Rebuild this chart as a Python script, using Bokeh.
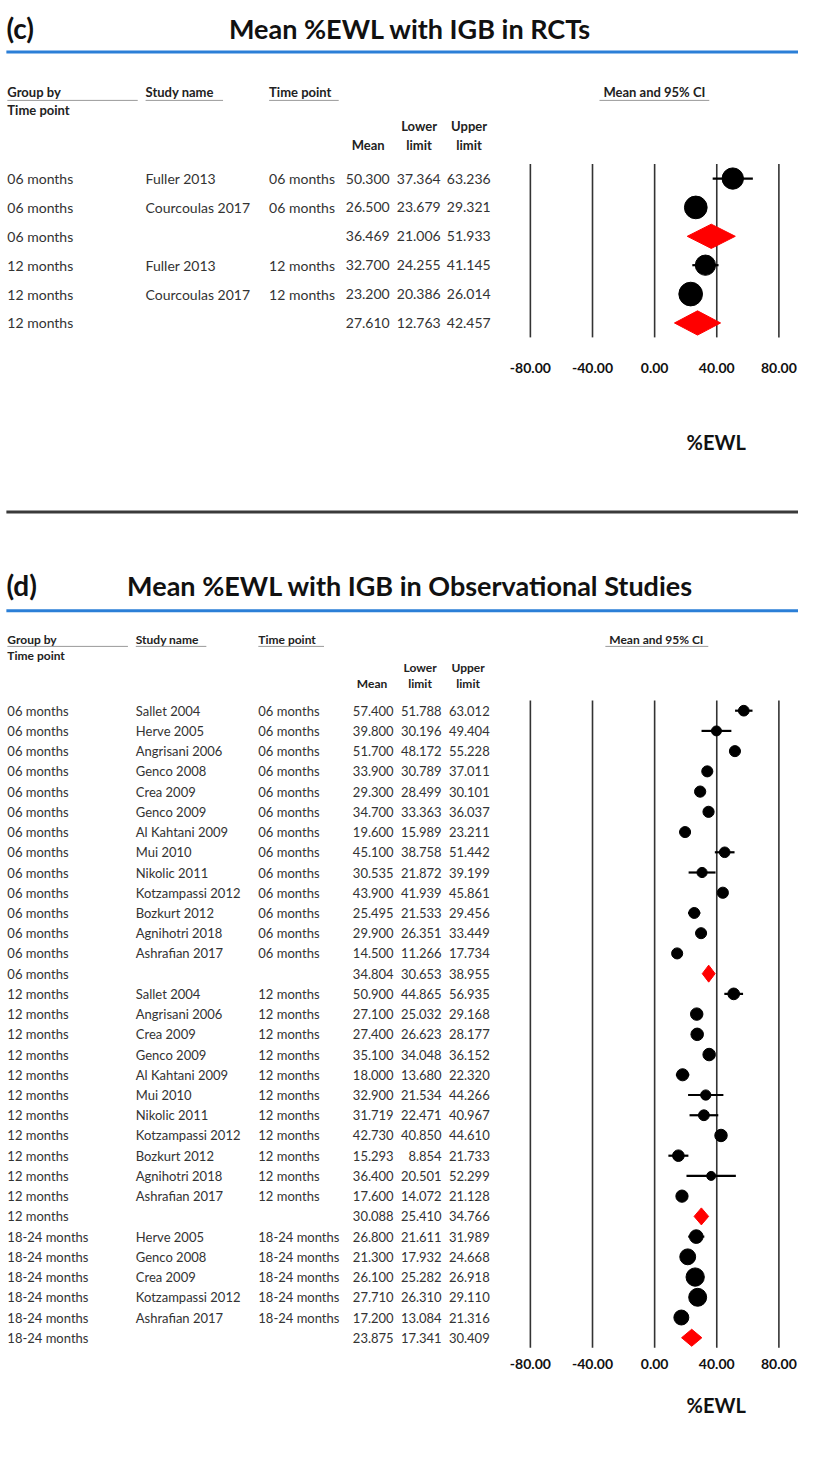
import numpy as np
from bokeh.plotting import figure
from bokeh.layouts import column
from bokeh.models import Range1d, ColumnDataSource
from bokeh.core.properties import value
from bokeh.embed import file_html
from bokeh.resources import INLINE

FONT = "Lato"

# ---------------- data: panel (c) ----------------
title_c = "Mean %EWL with IGB in RCTs"
group_c = ["06 months", "06 months", "06 months", "12 months", "12 months", "12 months"]
study_c = ["Fuller 2013", "Courcoulas 2017", "", "Fuller 2013", "Courcoulas 2017", ""]
time_c = ["06 months", "06 months", "", "12 months", "12 months", ""]
mean_c = [50.300, 26.500, 36.469, 32.700, 23.200, 27.610]
lower_c = [37.364, 23.679, 21.006, 24.255, 20.386, 12.763]
upper_c = [63.236, 29.321, 51.933, 41.145, 26.014, 42.457]

# ---------------- data: panel (d) ----------------
title_d = "Mean %EWL with IGB in Observational Studies"
group_d = (["06 months"] * 14) + (["12 months"] * 12) + (["18-24 months"] * 6)
study_d = ["Sallet 2004", "Herve 2005", "Angrisani 2006", "Genco 2008", "Crea 2009",
           "Genco 2009", "Al Kahtani 2009", "Mui 2010", "Nikolic 2011", "Kotzampassi 2012",
           "Bozkurt 2012", "Agnihotri 2018", "Ashrafian 2017", "",
           "Sallet 2004", "Angrisani 2006", "Crea 2009", "Genco 2009", "Al Kahtani 2009",
           "Mui 2010", "Nikolic 2011", "Kotzampassi 2012", "Bozkurt 2012", "Agnihotri 2018",
           "Ashrafian 2017", "",
           "Herve 2005", "Genco 2008", "Crea 2009", "Kotzampassi 2012", "Ashrafian 2017", ""]
time_d = [("" if s == "" else g) for s, g in zip(study_d, group_d)]
mean_d = [57.400, 39.800, 51.700, 33.900, 29.300, 34.700, 19.600, 45.100, 30.535, 43.900,
          25.495, 29.900, 14.500, 34.804,
          50.900, 27.100, 27.400, 35.100, 18.000, 32.900, 31.719, 42.730, 15.293, 36.400,
          17.600, 30.088,
          26.800, 21.300, 26.100, 27.710, 17.200, 23.875]
lower_d = [51.788, 30.196, 48.172, 30.789, 28.499, 33.363, 15.989, 38.758, 21.872, 41.939,
           21.533, 26.351, 11.266, 30.653,
           44.865, 25.032, 26.623, 34.048, 13.680, 21.534, 22.471, 40.850, 8.854, 20.501,
           14.072, 25.410,
           21.611, 17.932, 25.282, 26.310, 13.084, 17.341]
upper_d = [63.012, 49.404, 55.228, 37.011, 30.101, 36.037, 23.211, 51.442, 39.199, 45.861,
           29.456, 33.449, 17.734, 38.955,
           56.935, 29.168, 28.177, 36.152, 22.320, 44.266, 40.967, 44.610, 21.733, 52.299,
           21.128, 34.766,
           31.989, 24.668, 26.918, 29.110, 21.316, 30.409]

ticks = [-80, -40, 0, 40, 80]
axis_title = "%EWL"

REF_W, REF_H = 814, 1471          # reference canvas (layout units)
FIG_W, FIG_H = 798, 1455          # available page area
SPLIT = 505                       # reference y where panel (c) figure ends


def re_shares(lo, hi, y):
    lo, hi, y = map(np.asarray, (lo, hi, y))
    v = ((hi - lo) / (2 * 1.96)) ** 2
    w = 1 / v
    k = len(y)
    yb = (w * y).sum() / w.sum()
    Q = (w * (y - yb) ** 2).sum()
    cc = w.sum() - (w ** 2).sum() / w.sum()
    tau2 = max(0.0, (Q - (k - 1)) / cc) if k > 1 else 0.0
    wr = 1 / (v + tau2)
    return wr / wr.sum()


def marker_sizes(group, study, lo, hi, y, C, expo=0.42):
    sizes = np.zeros(len(y))
    for g in dict.fromkeys(group):
        idx = [i for i in range(len(y)) if group[i] == g and study[i] != ""]
        sh = re_shares([lo[i] for i in idx], [hi[i] for i in idx], [y[i] for i in idx])
        for j, i in enumerate(idx):
            sizes[i] = C * sh[j] ** expo
    return sizes


def panel(top_ref, bot_ref, height, row0, dy, cfg, group, study, time, mean, lower, upper,
          title, tag, size_C):
    def Y(py):
        return (py - row0) / dy

    p = figure(width=FIG_W, height=height, output_backend="svg", toolbar_location=None,
               x_range=Range1d(0, REF_W), y_range=Range1d(Y(bot_ref), Y(top_ref)),
               min_border=0, outline_line_color=None, x_axis_type=None, y_axis_type=None)
    p.grid.visible = False
    # forest plot scale: -80 -> 540.5, 80 -> 794 (reference pixels)
    px_lo, px_hi = 540.5, 794.0
    k = (px_hi - px_lo) / (ticks[-1] - ticks[0])
    p.extra_x_ranges = {"ci": Range1d(ticks[0] - px_lo / k, ticks[-1] + (REF_W - px_hi) / k)}

    n = len(mean)
    rows = list(range(n))

    if cfg.get("sep_y") is not None:
        p.segment(x0=[6], x1=[REF_W], y0=[Y(cfg["sep_y"])], y1=[Y(cfg["sep_y"])],
                  line_color="#3a3a3a", line_width=3)

    # title
    p.text(x=[6], y=[Y(cfg["title_y"])], text=[tag], text_font=value(FONT), text_font_style="bold",
           text_font_size="28px", text_baseline="middle", text_align="left", text_color="#111111")
    p.text(x=[cfg["title_x"]], y=[Y(cfg["title_y"])], text=[title], text_font=value(FONT),
           text_font_style="bold", text_font_size="27px", text_baseline="middle",
           text_align="center", text_color="#111111")
    p.segment(x0=[6], x1=[REF_W], y0=[Y(cfg["blue_y"])], y1=[Y(cfg["blue_y"])],
              line_color="#2b7fd7", line_width=3)

    hf = cfg["head_font"]
    df = cfg["data_font"]
    hx = cfg["head_x"]
    # header
    p.text(x=hx[:3], y=[Y(cfg["head_y"])] * 3, text=["Group by", "Study name", "Time point"],
           text_font=value(FONT), text_font_style="bold", text_font_size=hf,
           text_baseline="middle", text_align="left", text_color="#222222")
    p.text(x=[cfg["ci_head_x"]], y=[Y(cfg["head_y"])], text=["Mean and 95% CI"],
           text_font=value(FONT), text_font_style="bold", text_font_size=hf,
           text_baseline="middle", text_align="center", text_color="#222222")
    ul = cfg["underlines"]
    uy = Y(cfg["head_y"] + cfg["ul_off"])
    p.segment(x0=[a for a, b in ul], x1=[b for a, b in ul], y0=[uy] * len(ul), y1=[uy] * len(ul),
              line_color="#9a9a9a", line_width=1)
    p.text(x=[hx[0]], y=[Y(cfg["head2_y"])], text=["Time point"], text_font=value(FONT),
           text_font_style="bold", text_font_size=hf, text_baseline="middle",
           text_align="left", text_color="#222222")
    cr = cfg["col_right"]
    cw = cfg["col_w"]
    cc = [r - cw / 2 for r in cr]
    p.text(x=cc[1:], y=[Y(cfg["lim1_y"])] * 2, text=["Lower", "Upper"], text_font=value(FONT),
           text_font_style="bold", text_font_size=hf, text_baseline="middle",
           text_align="center", text_color="#222222")
    p.text(x=cc, y=[Y(cfg["lim2_y"])] * 3, text=["Mean", "limit", "limit"], text_font=value(FONT),
           text_font_style="bold", text_font_size=hf, text_baseline="middle",
           text_align="center", text_color="#222222")

    # table body
    src = ColumnDataSource(dict(
        row=rows, group=group, study=study, time=time,
        mean_s=[f"{v:.3f}" for v in mean], lower_s=[f"{v:.3f}" for v in lower],
        upper_s=[f"{v:.3f}" for v in upper]))
    for xpos, col, align in [(hx[0], "group", "left"), (hx[1], "study", "left"),
                             (hx[2], "time", "left"), (cr[0], "mean_s", "right"),
                             (cr[1], "lower_s", "right"), (cr[2], "upper_s", "right")]:
        p.text(x=xpos, y="row", text=col, source=src, text_font=value(FONT),
               text_font_size=df, text_baseline="middle", text_align=align, text_color="#333333")

    # forest plot reference lines
    p.segment(x0=ticks, x1=ticks, y0=[-0.5] * len(ticks), y1=[n - 0.5] * len(ticks),
              line_color="#333333", line_width=1.6, x_range_name="ci")
    p.text(x=ticks, y=[Y(cfg["tick_y"])] * len(ticks), text=[f"{t:.2f}" for t in ticks],
           x_range_name="ci", text_font=value(FONT), text_font_style="bold",
           text_font_size=cfg["tick_font"], text_baseline="middle", text_align="center",
           text_color="#111111")
    p.text(x=[730], y=[Y(cfg["xlab_y"])], text=[axis_title], text_font=value(FONT),
           text_font_style="bold", text_font_size=cfg["xlab_font"], text_baseline="middle",
           text_align="center", text_color="#111111")

    sizes = marker_sizes(group, study, lower, upper, mean, size_C)
    st = [i for i in rows if study[i] != ""]
    sm = [i for i in rows if study[i] == ""]
    p.segment(x0=[lower[i] for i in st], x1=[upper[i] for i in st], y0=st, y1=st,
              line_color="black", line_width=2.2, x_range_name="ci")
    p.scatter(x=[mean[i] for i in st], y=st, size=[sizes[i] for i in st], marker="circle",
              fill_color="black", line_color="black", x_range_name="ci")
    h = 0.42
    p.patches(xs=[[lower[i], mean[i], upper[i], mean[i]] for i in sm],
              ys=[[i, i - h, i, i + h] for i in sm], fill_color="#ff0000", line_color="#ff0000",
              x_range_name="ci")
    return p


cfg_c = dict(title_y=28, title_x=418, blue_y=52, head_y=93, ul_off=8, head2_y=111, lim1_y=127,
             lim2_y=146, head_x=[7, 148, 274], ci_head_x=667,
             underlines=[(7, 140), (148, 227), (274, 345), (611, 723)],
             col_right=[397, 449, 500], col_w=44, head_font="13px", data_font="14px",
             tick_y=372, tick_font="14px", xlab_y=446, xlab_font="20px", sep_y=None)
cfg_d = dict(title_y=591, title_x=418, blue_y=617, head_y=646, ul_off=7, head2_y=662, lim1_y=674,
             lim2_y=691, head_x=[7, 138, 263], ci_head_x=669,
             underlines=[(7, 130), (138, 210), (263, 330), (617, 722)],
             col_right=[401, 450, 499], col_w=44, head_font="12px", data_font="13px",
             tick_y=1378, tick_font="14px", xlab_y=1420, xlab_font="20px", sep_y=517)

h_c = round(SPLIT * FIG_H / REF_H)
h_d = FIG_H - h_c
split_ref = h_c * REF_H / FIG_H

pc = panel(0, split_ref, h_c, 180, 29.2, cfg_c, group_c, study_c, time_c, mean_c, lower_c,
           upper_c, title_c, "(c)", 29.5)
pd_ = panel(split_ref, REF_H, h_d, 718, 20.45, cfg_d, group_d, study_d, time_d, mean_d, lower_d,
            upper_d, title_d, "(d)", 32)

layout = column(pc, pd_, spacing=0)
open("out.html", "w").write(file_html(layout, INLINE))
